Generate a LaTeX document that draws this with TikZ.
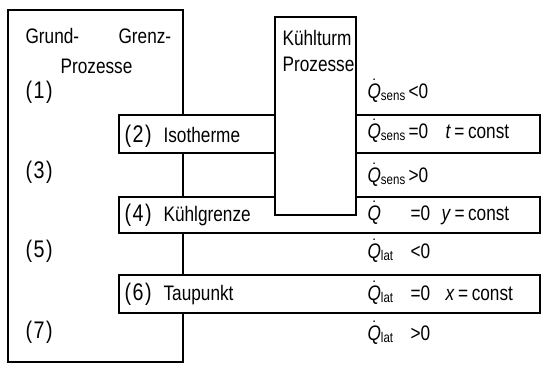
\documentclass[tikz,border=0pt]{standalone}
\usepackage{fontspec}
\setmainfont{Liberation Sans}[FakeStretch=0.82]
\newcommand\Qd{$\dot{\mbox{\itshape Q}}$}
\newcommand\Qs[1]{\Qd\raisebox{-2.5pt}{\fontsize{14}{14}\selectfont #1}}
\newcommand\pnum[1]{{\fontsize{24}{24}\selectfont(\kern1.5pt#1\kern1.5pt)}}
\begin{document}
\begin{tikzpicture}[x=1pt, y=-1pt, line width=1.2pt,
    txt/.style={anchor=base west, inner sep=0pt, font=\fontsize{21}{21}\selectfont}]
        \useasboundingbox (0,0) rectangle (547,365) ;
        % Grund- und Grenzprozesse
        \draw[fill=white] (8,10) rectangle (183,362) ;
        \node[txt] (grund) at (25,43) {Grund-} ;
        \node[txt] (grenz) at (118,43) {Grenz-} ;
        \node[txt] (proz) at (60,73) {Prozesse} ;
        \node[txt] (n1) at (25,98) {\pnum{1}} ;
        \node[txt] (n3) at (25,178) {\pnum{3}} ;
        \node[txt] (n5) at (25,257) {\pnum{5}} ;
        \node[txt] (n7) at (25,338) {\pnum{7}} ;
        % Grenzprozesse
        \draw[fill=white] (119,115) rectangle (540,153) ;
        \draw[fill=white] (119,197) rectangle (540,233) ;
        \draw[fill=white] (119,275) rectangle (540,313) ;
        \node[txt] (n2) at (124,142) {\pnum{2}} ;
        \node[txt] (iso) at (163,142) {Isotherme} ;
        \node[txt] (n4) at (124,221) {\pnum{4}} ;
        \node[txt] (kgr) at (163,221) {Kühlgrenze} ;
        \node[txt] (n6) at (124,300) {\pnum{6}} ;
        \node[txt] (tau) at (163,300) {Taupunkt} ;
        % Kuehlturm
        \draw[fill=white] (275,17) rectangle (356,215) ;
        \node[txt] (kt) at (282,45) {Kühlturm} ;
        \node[txt] (ktp) at (282,71) {Prozesse} ;
        % Waermestroeme
        \node[txt] (q1) at (367,98) {\Qs{sens}} ;
        \node[txt] (r1) at (408,98) {<0} ;
        \node[txt] (q2) at (367,138) {\Qs{sens}} ;
        \node[txt] (r2) at (408,138) {=0} ;
        \node[txt] (c2) at (445,138) {\textit{t}\,=\,const} ;
        \node[txt] (q3) at (367,182) {\Qs{sens}} ;
        \node[txt] (r3) at (408,182) {>0} ;
        \node[txt] (q4) at (367,220) {\Qd} ;
        \node[txt] (r4) at (410,220) {=0} ;
        \node[txt] (c4) at (441,220) {\textit{y}\,=\,const} ;
        \node[txt] (q5) at (367,258) {\Qs{lat}} ;
        \node[txt] (r5) at (410,258) {<0} ;
        \node[txt] (q6) at (367,300) {\Qs{lat}} ;
        \node[txt] (r6) at (410,300) {=0} ;
        \node[txt] (c6) at (445,300) {\textit{x}\,=\,const} ;
        \node[txt] (q7) at (367,340) {\Qs{lat}} ;
        \node[txt] (r7) at (410,340) {>0} ;
\end{tikzpicture}
\end{document}
